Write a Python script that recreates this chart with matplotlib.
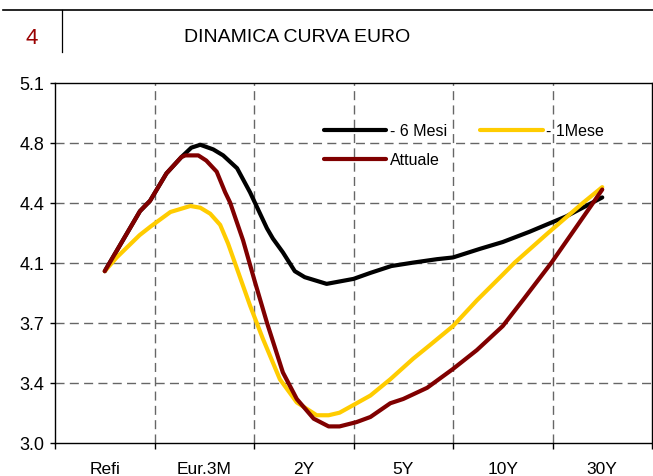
import numpy as np
import matplotlib
matplotlib.use("Agg")
import matplotlib.pyplot as plt
from matplotlib.lines import Line2D

plt.rcParams['font.family'] = ['Liberation Sans', 'DejaVu Sans']

# Categorie e tick
categorie = ['Refi', 'Eur.3M', '2Y', '5Y', '10Y', '30Y']
y_ticks = [3.0, 3.35, 3.7, 4.05, 4.4, 4.75, 5.1]
y_labels = ['3.0', '3.4', '3.7', '4.1', '4.4', '4.8', '5.1']

# Curva 6 mesi fa (x in unita di categoria)
x_6m = [0, 0.354, 0.455, 0.62, 0.77, 0.87, 0.96, 1.09, 1.19, 1.33, 1.46, 1.63, 1.69,
        1.79, 1.91, 2.01, 2.23, 2.5, 2.67, 2.88, 3.1, 3.34, 3.5, 3.77, 4.0, 4.27,
        4.64, 5.0]
y_6m = [4.0, 4.35, 4.41, 4.57, 4.665, 4.72, 4.737, 4.71, 4.675, 4.60, 4.46, 4.25, 4.19,
        4.11, 4.0, 3.965, 3.926, 3.955, 3.99, 4.03, 4.05, 4.07, 4.08, 4.13, 4.17, 4.23,
        4.32, 4.43]

# Curva 1 mese fa
x_1m = [0, 0.12, 0.35, 0.46, 0.66, 0.86, 0.96, 1.06, 1.16, 1.24, 1.46, 1.59, 1.76,
        1.93, 2.13, 2.25, 2.36, 2.5, 2.67, 2.87, 3.1, 3.27, 3.5, 3.74, 4.0, 4.12,
        4.45, 4.81, 5.0]
y_1m = [4.0, 4.08, 4.21, 4.26, 4.345, 4.38, 4.37, 4.335, 4.27, 4.16, 3.80, 3.605, 3.37,
        3.235, 3.16, 3.16, 3.175, 3.22, 3.275, 3.37, 3.49, 3.57, 3.68, 3.83, 3.98, 4.05,
        4.22, 4.40, 4.49]

# Curva attuale
x_att = [0, 0.354, 0.455, 0.62, 0.77, 0.81, 0.94, 1.02, 1.125, 1.21, 1.26, 1.31, 1.39,
         1.51, 1.63, 1.79, 1.93, 2.10, 2.25, 2.36, 2.53, 2.67, 2.87, 3.0, 3.24, 3.5,
         3.74, 4.0, 4.21, 4.49, 4.91, 5.0]
y_att = [4.0, 4.35, 4.41, 4.57, 4.665, 4.675, 4.675, 4.645, 4.58, 4.46, 4.40, 4.315, 4.18,
         3.936, 3.70, 3.41, 3.255, 3.14, 3.095, 3.095, 3.12, 3.15, 3.23, 3.255, 3.32, 3.43,
         3.54, 3.68, 3.837, 4.05, 4.40, 4.476]

# Figura
fig = plt.figure(figsize=(6.53, 4.77), dpi=100)

# Intestazione
fig.add_artist(Line2D([3 / 653, 1], [1 - 11.3 / 477] * 2, color='black', lw=1.2))
fig.add_artist(Line2D([62 / 653] * 2, [1 - 11.3 / 477, 1 - 53 / 477], color='black', lw=0.9))
fig.text(32 / 653, 1 - 38 / 477, '4', color='#990000', fontsize=16,
         ha='center', va='center')
fig.text(297 / 653, 1 - 38 / 477, 'DINAMICA CURVA EURO', color='black', fontsize=14,
         ha='center', va='center')

ax = fig.add_axes([55 / 653, 1 - 443.7 / 477, (652 - 55) / 653, (443.7 - 83.5) / 477])

lw = 3.0
l6, = ax.plot(x_6m, y_6m, color='black', lw=lw, solid_capstyle='round',
              solid_joinstyle='round', label='- 6 Mesi', zorder=3)
l1, = ax.plot(x_1m, y_1m, color='#FFCC00', lw=lw, solid_capstyle='round',
              solid_joinstyle='round', label='- 1Mese', zorder=3)
la, = ax.plot(x_att, y_att, color='#800000', lw=lw, solid_capstyle='round',
              solid_joinstyle='round', label='Attuale', zorder=4)

# Assi
ax.set_xlim(-0.5, 5.5)
ax.set_ylim(3.0, 5.1)
ax.set_yticks(y_ticks)
ax.set_yticklabels(y_labels)
ax.set_xticks(np.arange(-0.5, 6.0, 1.0))
ax.set_xticklabels([])
ax.set_xticks(np.arange(len(categorie)), minor=True)
ax.set_xticklabels(categorie, minor=True)
ax.tick_params(axis='y', which='major', direction='out', length=3.5, width=1, pad=4, labelsize=13)
ax.tick_params(axis='x', which='major', direction='out', length=4.5, width=1)
ax.tick_params(axis='x', which='minor', length=0, pad=13, labelsize=12.5)

# Griglia tratteggiata
for yv in y_ticks[1:-1]:
    ax.axhline(yv, color='#666666', lw=1, dashes=(6.5, 3.8), zorder=1)
for xv in np.arange(0.5, 5.0, 1.0):
    ax.axvline(xv, color='#666666', lw=1, dashes=(6.5, 3.8), zorder=1)

for s in ax.spines.values():
    s.set_color('black')
    s.set_linewidth(1)

# Legenda (riga 1: 6 Mesi, 1Mese; riga 2: Attuale)
leg = ax.legend([l6, la, l1], ['- 6 Mesi', 'Attuale', '- 1Mese'],
                loc='upper left', bbox_to_anchor=(0.44, 0.905), ncol=2, frameon=False,
                fontsize=11.5, handlelength=3.9, handletextpad=0.2, columnspacing=2.1,
                labelspacing=0.9, borderaxespad=0)

plt.savefig('out.png', dpi=100)
